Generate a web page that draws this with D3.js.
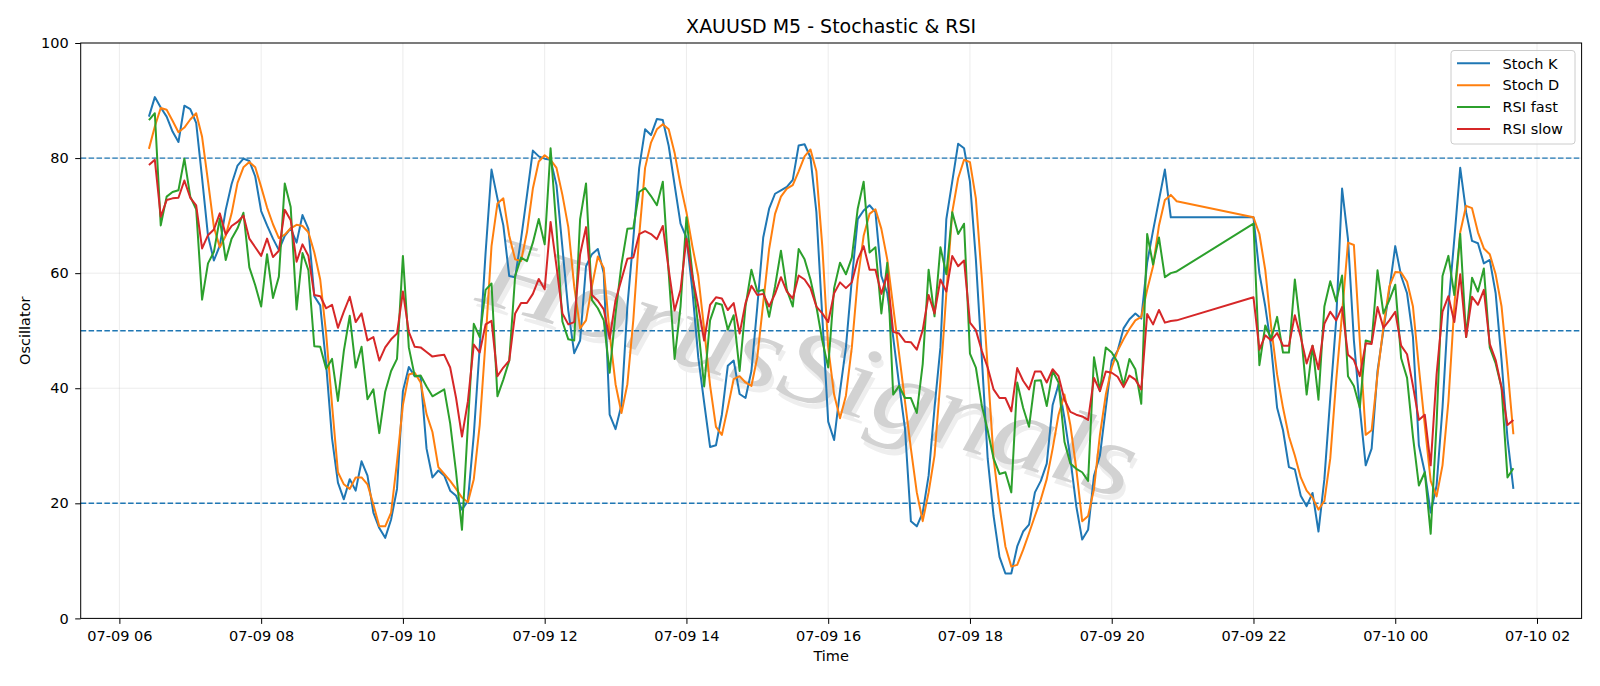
<!DOCTYPE html>
<html><head><meta charset="utf-8">
<script src="https://cdn.jsdelivr.net/npm/d3@7"></script>
<style>
body{margin:0;background:#fff;}
svg{display:block;}
text{font-family:"DejaVu Sans",sans-serif;fill:#000;}
</style>
</head><body>
<svg id="chart" width="1600" height="686"></svg>
<script>
// ---- data ----
const sessionStarts = ["2025-07-09T06:25", "2025-07-09T22:00"];
const sessionBars = [175, 45];

const stochK = [
87.2,90.6,88.8,87.2,84.6,82.8,89.1,88.5,86.1,76.5,
66.5,62.2,64.8,71.0,75.5,78.7,79.9,79.5,76.8,70.8,
68.3,66.0,64.0,66.5,67.8,65.3,70.1,67.7,56.0,54.4,
44.2,31.3,23.6,20.7,24.2,22.2,27.3,24.8,18.4,15.7,
14.0,17.2,22.5,39.5,43.7,42.1,42.0,29.5,24.5,25.7,
24.8,22.2,21.3,18.9,20.4,31.9,47.1,63.6,78.0,73.0,
68.3,59.5,59.3,65.9,73.5,81.3,80.3,79.9,79.7,75.3,
64.5,53.5,46.1,48.3,61.2,63.3,64.2,60.0,35.4,32.9,
37.1,54.2,65.9,78.3,85.0,84.0,86.8,86.6,82.1,75.3,
68.6,66.2,57.1,45.4,37.5,29.8,30.1,35.4,43.9,44.8,
39.0,38.3,43.0,54.2,66.2,71.2,73.8,74.4,75.0,76.2,
82.2,82.4,80.1,70.6,52.4,34.2,31.0,39.5,47.1,58.9,
69.4,70.9,71.8,70.6,59.5,56.5,48.9,40.7,33.0,16.9,
16.0,18.4,24.8,36.6,47.1,69.4,75.9,82.5,81.7,75.9,
62.4,45.4,27.8,17.8,10.7,7.8,7.8,12.5,15.1,16.3,
21.9,23.9,26.9,37.1,40.7,34.8,27.8,19.5,13.7,15.4,
24.8,28.3,36.6,44.8,46.5,50.4,52.0,53.0,52.1,61.8,
67.4,72.7,78.0,69.7,69.7,
69.7,60.0,54.2,47.1,36.6,32.7,26.3,25.9,21.3,19.5,
21.8,15.1,24.2,38.3,51.8,74.7,65.9,48.3,36.6,26.6,
29.5,43.0,50.1,57.1,64.7,59.5,56.5,48.9,30.1,25.4,
18.4,23.1,36.6,54.2,65.9,78.3,70.6,65.6,65.2,61.7,
62.3,56.5,44.8,31.3,22.5
];

const stochD = [
81.6,85.5,88.7,88.4,86.5,84.5,85.3,86.7,87.8,83.7,
76.0,68.0,64.5,66.5,70.4,75.7,78.4,79.3,78.4,75.0,
71.4,68.5,66.1,66.7,67.8,68.4,68.2,67.1,63.6,58.9,
49.5,37.1,25.4,23.3,22.5,24.5,24.5,23.3,19.8,16.0,
16.0,18.4,27.2,37.1,42.4,42.7,41.0,35.5,32.4,26.3,
25.1,23.9,22.5,21.0,20.2,24.2,33.6,48.3,64.7,72.1,
73.0,66.5,62.4,62.1,67.1,74.7,79.4,80.5,79.7,78.3,
73.6,68.0,57.7,50.4,51.8,57.7,62.9,60.9,49.5,40.7,
35.7,40.7,51.8,66.5,78.3,82.7,85.0,85.9,85.0,80.9,
75.3,70.6,64.7,59.5,50.3,40.5,33.3,31.9,36.6,41.6,
42.1,41.0,40.4,45.4,54.8,64.2,70.3,73.3,74.7,75.3,
77.7,80.3,81.5,77.7,64.7,47.1,38.9,34.8,38.7,47.1,
58.9,66.5,70.3,71.1,67.7,62.4,54.2,46.0,37.7,29.5,
21.9,16.9,21.9,28.3,41.3,56.5,70.6,76.5,79.7,79.3,
73.0,59.2,43.5,27.8,19.5,12.5,9.0,9.3,11.9,14.8,
17.8,20.7,24.2,29.5,35.4,38.9,33.6,26.0,16.9,17.8,
22.5,31.9,38.9,43.6,46.5,48.5,50.3,51.8,52.4,57.1,
61.2,68.3,72.7,73.6,72.5,
69.7,66.8,60.5,50.6,42.4,36.6,31.6,28.3,24.5,22.2,
21.0,18.9,20.4,27.8,41.3,53.0,65.3,64.9,48.3,31.9,
32.7,42.4,50.6,57.7,60.2,60.1,58.5,54.2,43.6,33.6,
23.9,21.2,26.6,37.7,54.2,67.1,71.7,71.3,67.1,64.3,
63.3,59.8,54.2,43.6,32.0
];

const rsiFast = [
86.6,87.8,68.3,73.3,74.1,74.4,79.9,73.3,71.1,55.4,
61.7,63.7,69.5,62.3,66.0,67.8,70.5,61.0,57.9,54.2,
63.3,55.7,59.4,75.6,71.5,53.7,63.5,60.5,47.3,47.2,
43.4,45.1,37.8,46.5,52.6,43.6,47.2,38.1,39.8,32.2,
39.4,43.0,45.1,63.0,47.1,42.1,42.2,40.3,38.6,39.2,
39.8,33.9,25.4,15.4,33.6,51.2,48.9,57.1,58.2,38.6,
41.5,44.8,59.5,62.7,62.1,65.3,69.4,65.0,81.7,67.7,
51.6,48.5,48.3,69.4,75.6,55.3,53.9,51.8,42.7,53.0,
61.5,67.7,67.8,74.1,74.8,73.4,71.8,75.9,60.0,45.1,
54.2,69.7,60.0,50.6,40.3,51.8,54.8,54.5,50.2,52.7,
43.0,54.2,60.6,56.8,57.1,52.4,57.7,63.9,57.1,54.2,
64.2,62.4,58.9,54.2,48.3,43.6,57.4,61.8,59.8,62.7,
71.2,75.9,63.6,64.5,53.0,61.8,38.9,40.4,38.3,38.3,
35.7,44.2,60.6,52.5,64.5,59.8,70.6,66.8,68.6,46.0,
43.6,37.0,32.7,27.8,25.1,25.4,21.9,41.0,36.6,33.3,
41.3,41.4,36.9,43.0,41.0,30.7,26.9,26.0,25.4,23.9,
45.4,39.5,47.1,46.2,44.5,40.5,45.1,43.3,37.3,66.8,
61.5,66.2,59.3,60.0,60.3,
68.6,44.0,50.9,48.6,52.4,46.2,46.2,58.9,50.1,38.9,
47.4,38.0,54.2,58.6,55.1,59.6,42.1,40.4,36.6,48.3,
48.0,60.5,53.0,55.3,58.0,45.2,41.8,31.6,23.1,25.4,
14.7,33.9,59.5,63.0,56.2,66.8,48.9,59.2,56.8,60.8,
47.1,44.3,40.1,24.5,26.1
];

const rsiSlow = [
78.8,79.7,69.8,72.7,73.0,73.1,76.1,73.1,71.8,64.3,
66.6,67.6,70.4,66.7,68.2,68.9,70.0,66.0,64.5,63.0,
66.0,62.8,63.9,71.0,69.2,62.0,65.0,63.0,56.2,56.0,
53.9,54.5,50.5,53.3,55.9,51.5,53.0,48.3,48.9,44.8,
47.1,48.5,49.5,56.8,49.8,47.2,47.1,46.3,45.5,45.7,
45.8,43.6,38.3,31.6,37.7,47.6,46.2,51.1,51.7,42.1,
43.6,44.8,53.0,54.8,54.8,56.4,59.0,57.2,68.9,61.2,
53.0,51.1,51.5,63.3,68.0,56.2,55.2,53.7,48.6,55.3,
58.9,62.5,62.7,66.8,67.3,66.8,65.9,68.2,60.6,53.5,
57.1,66.0,59.5,54.2,48.3,54.5,55.8,55.6,53.6,54.8,
49.5,54.8,57.8,56.2,56.4,54.2,56.4,59.3,56.8,55.6,
59.6,58.9,57.4,54.2,53.0,51.5,56.5,58.4,57.4,58.4,
62.4,64.7,60.6,60.6,56.4,59.8,49.8,49.5,48.1,48.0,
46.7,50.1,56.2,53.0,58.9,56.8,63.0,61.2,62.2,51.4,
50.1,46.5,43.6,39.8,38.3,38.3,36.0,43.5,41.3,39.8,
42.9,42.9,41.0,43.3,42.1,38.0,35.9,35.4,35.1,34.5,
41.8,39.5,42.9,42.7,42.0,40.2,42.2,41.5,39.8,52.9,
51.1,53.6,51.4,51.7,51.8,
55.8,46.7,49.2,48.3,49.6,47.4,47.4,52.7,48.9,44.3,
47.4,43.3,51.2,53.3,51.8,54.1,45.8,44.9,42.1,47.8,
47.7,54.1,50.5,51.8,53.3,47.4,45.9,40.4,34.5,35.4,
26.6,42.4,53.3,56.0,51.5,59.8,48.9,55.9,54.5,57.1,
47.7,44.9,40.1,33.6,34.5
];

const seriesNames = ["Stoch K", "Stoch D", "RSI fast", "RSI slow"];
const levels = [80, 50, 20];
const yTicks = [0, 20, 40, 60, 80, 100];
const xTickTimes = ["2025-07-09T06:00","2025-07-09T08:00","2025-07-09T10:00","2025-07-09T12:00",
  "2025-07-09T14:00","2025-07-09T16:00","2025-07-09T18:00","2025-07-09T20:00",
  "2025-07-09T22:00","2025-07-10T00:00","2025-07-10T02:00"];
const titleText = "XAUUSD M5 - Stochastic & RSI";
const watermarkText = "HorusSignals";

// ---- build ----
const parse = d3.timeParse("%Y-%m-%dT%H:%M");
const times = [];
sessionStarts.forEach((s, k) => {
  const t0 = parse(s);
  for (let n = 0; n < sessionBars[k]; n++) times.push(d3.timeMinute.offset(t0, 5 * n));
});

const colors = ["#1f77b4", "#ff7f0e", "#2ca02c", "#d62728"];
const allSeries = [stochK, stochD, rsiFast, rsiSlow];

const W = 1600, H = 686;
const M = {l: 80.7, r: 1581.6, t: 43, b: 618.4};
const svg = d3.select("#chart");
svg.append("rect").attr("width", W).attr("height", H).attr("fill", "#fff");

const tMin = times[0], tMax = times[times.length - 1];
const span = tMax - tMin;
const x = d3.scaleTime()
  .domain([new Date(+tMin - 0.05 * span), new Date(+tMax + 0.05 * span)])
  .range([M.l, M.r]);
const y = d3.scaleLinear().domain([0, 100]).range([M.b, M.t]);

const xt = xTickTimes.map(parse);
const fmt = d3.timeFormat("%m-%d %H");

// grid
const grid = svg.append("g");
grid.selectAll("line.gy").data(yTicks).join("line")
  .attr("x1", M.l).attr("x2", M.r).attr("y1", d => y(d)).attr("y2", d => y(d))
  .attr("stroke", "#b0b0b0").attr("stroke-opacity", 0.3).attr("stroke-width", 0.8);
grid.selectAll("line.gx").data(xt).join("line")
  .attr("y1", M.t).attr("y2", M.b).attr("x1", d => x(d)).attr("x2", d => x(d))
  .attr("stroke", "#b0b0b0").attr("stroke-opacity", 0.3).attr("stroke-width", 0.8);

// watermark
const wm = svg.append("g").attr("transform", "translate(800,400) rotate(17)");
wm.append("text").text(watermarkText)
  .attr("x", 4).attr("y", 5).attr("text-anchor", "middle")
  .attr("textLength", 680).attr("lengthAdjust", "spacingAndGlyphs")
  .style("font-family", "'Liberation Serif', serif").style("font-style", "italic")
  .style("font-size", "104px").style("fill", "#eeeeee");
wm.append("text").text(watermarkText)
  .attr("x", 0).attr("y", 0).attr("text-anchor", "middle")
  .attr("textLength", 680).attr("lengthAdjust", "spacingAndGlyphs")
  .style("font-family", "'Liberation Serif', serif").style("font-style", "italic")
  .style("font-size", "104px").style("fill", "#d2d2d2");

// level lines
svg.append("g").selectAll("line").data(levels).join("line")
  .attr("x1", M.l).attr("x2", M.r).attr("y1", d => y(d)).attr("y2", d => y(d))
  .attr("stroke", "#1f77b4").attr("stroke-width", 1.4).attr("stroke-dasharray", "5.5,2.4");

// series
const line = d3.line().x((d, i) => x(times[i])).y(d => y(d));
svg.append("g").selectAll("path").data(allSeries).join("path")
  .attr("d", d => line(d)).attr("fill", "none")
  .attr("stroke", (d, i) => colors[i]).attr("stroke-width", 2)
  .attr("stroke-linejoin", "round");

// frame
svg.append("rect").attr("x", M.l).attr("y", M.t).attr("width", M.r - M.l).attr("height", M.b - M.t)
  .attr("fill", "none").attr("stroke", "#000").attr("stroke-width", 1);

// axes
const ax = svg.append("g").attr("transform", `translate(0,${M.b})`)
  .call(d3.axisBottom(x).tickValues(xt).tickFormat(fmt).tickSize(5.5).tickPadding(6.5));
const ay = svg.append("g").attr("transform", `translate(${M.l},0)`)
  .call(d3.axisLeft(y).tickValues(yTicks).tickSize(5.5).tickPadding(6.5));
[ax, ay].forEach(g => {
  g.select(".domain").remove();
  g.selectAll("line").attr("stroke", "#000").attr("stroke-width", 1);
  g.selectAll("text").style("font-family", "'DejaVu Sans', sans-serif").style("font-size", "14.5px").attr("fill", "#000");
});

// labels
svg.append("text").text(titleText).attr("x", (M.l + M.r) / 2).attr("y", 32.5)
  .attr("text-anchor", "middle").style("font-size", "19px");
svg.append("text").text("Time").attr("x", (M.l + M.r) / 2).attr("y", 661)
  .attr("text-anchor", "middle").style("font-size", "14.5px");
svg.append("text").text("Oscillator").attr("transform", `translate(29.5,${(M.t + M.b) / 2}) rotate(-90)`)
  .attr("text-anchor", "middle").style("font-size", "14.5px");

// legend
const lg = svg.append("g");
lg.append("rect").attr("x", 1451).attr("y", 50.5).attr("width", 124).attr("height", 93.5)
  .attr("rx", 3).attr("fill", "#fff").attr("fill-opacity", 0.8)
  .attr("stroke", "#cccccc").attr("stroke-width", 1);
seriesNames.forEach((n, i) => {
  const cy = 63.3 + i * 21.9;
  lg.append("line").attr("x1", 1457).attr("x2", 1490).attr("y1", cy).attr("y2", cy)
    .attr("stroke", colors[i]).attr("stroke-width", 2);
  lg.append("text").text(n).attr("x", 1502.5).attr("y", cy + 5.2).style("font-size", "14.5px");
});
</script>
</body></html>
